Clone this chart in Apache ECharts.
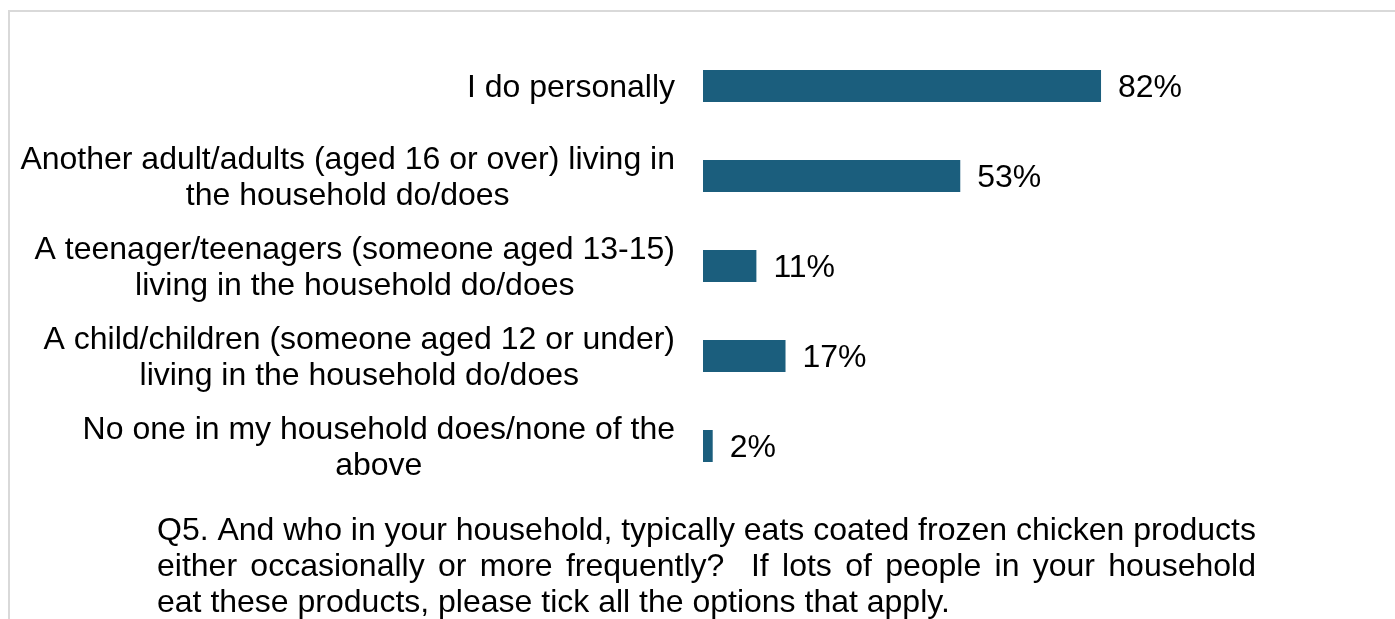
<!DOCTYPE html>
<html>
<head>
<meta charset="utf-8">
<script src="https://cdn.jsdelivr.net/npm/echarts@6/dist/echarts.min.js"></script>
<style>
  html, body { margin: 0; padding: 0; background: #ffffff; }
  #chart { width: 1395px; height: 619px; }
</style>
</head>
<body>
<div id="chart"></div>
<script>
// Who in the household eats coated frozen chicken products (% of respondents)
const categories = [
  'I do personally',
  'Another adult/adults (aged 16 or over) living in\nthe household do/does',
  'A teenager/teenagers (someone aged 13-15)\nliving in the household do/does',
  'A child/children (someone aged 12 or under)\nliving in the household do/does',
  'No one in my household does/none of the\nabove'
];
const shares = [82, 53, 11, 17, 2];

// Question wording shown beneath the bars (all but the last line justified)
const questionLines = [
  'Q5. And who in your household, typically eats coated frozen chicken products',
  'either occasionally or more frequently?  If lots of people in your household',
  'eat these products, please tick all the options that apply.'
];

const FONT_FAMILY = '"Liberation Sans", Arial, Helvetica, sans-serif';
const FONT_SIZE = 32;
const BAR_COLOR = '#1b5e7d';

// Lay out one paragraph line word by word so that it fills the given width
function justifiedLine(text, x, y, width, justify) {
  const ctx = document.createElement('canvas').getContext('2d');
  ctx.font = FONT_SIZE + 'px ' + FONT_FAMILY;
  const words = text.split(' ');
  const widths = words.map(w => ctx.measureText(w).width);
  const spaceW = ctx.measureText(' ').width;
  const total = widths.reduce((a, b) => a + b, 0);
  const gap = justify && words.length > 1
    ? (width - total) / (words.length - 1)
    : spaceW;
  const children = [];
  let cx = x;
  words.forEach((w, i) => {
    if (w.length) {
      children.push({
        type: 'text',
        x: cx,
        y: y,
        style: {
          text: w,
          fill: '#000000',
          font: FONT_SIZE + 'px ' + FONT_FAMILY,
          textAlign: 'left',
          textVerticalAlign: 'middle'
        }
      });
    }
    cx += widths[i] + gap;
  });
  return { type: 'group', children: children };
}

const paraLeft = 157;
const paraWidth = 1099;
const paraTop = 531;
const paraLineHeight = 36;

const questionGraphics = questionLines.map((line, i) =>
  justifiedLine(line, paraLeft, paraTop + i * paraLineHeight, paraWidth, i < questionLines.length - 1)
);

const chart = echarts.init(document.getElementById('chart'), null, { renderer: 'canvas' });

chart.setOption({
  animation: false,
  backgroundColor: '#ffffff',
  grid: {
    left: 703,
    top: 41,
    width: 485.4,
    height: 450,
    containLabel: false
  },
  xAxis: {
    type: 'value',
    min: 0,
    max: 100,
    show: false
  },
  yAxis: {
    type: 'category',
    data: categories,
    inverse: true,
    axisLine: { show: false },
    axisTick: { show: false },
    splitLine: { show: false },
    axisLabel: {
      margin: 28,
      align: 'right',
      padding: [4, 0, 0, 0],
      // each wrapped line is centred within the right-aligned label block
      formatter: value => value.split('\n').map(s => '{c|' + s + '}').join('\n'),
      rich: {
        c: {
          align: 'center',
          color: '#000000',
          fontFamily: FONT_FAMILY,
          fontSize: FONT_SIZE,
          lineHeight: 36
        }
      }
    }
  },
  series: [{
    type: 'bar',
    data: shares,
    barWidth: 32,
    itemStyle: { color: BAR_COLOR },
    label: {
      show: true,
      position: 'right',
      distance: 17,
      offset: [0, 2],
      formatter: '{c}%',
      color: '#000000',
      fontFamily: FONT_FAMILY,
      fontSize: FONT_SIZE
    }
  }],
  graphic: [
    {
      type: 'rect',
      shape: { x: 9, y: 11, width: 1600, height: 800 },
      style: { fill: 'none', stroke: '#d9d9d9', lineWidth: 2 },
      silent: true,
      z: -1
    }
  ].concat(questionGraphics)
});
</script>
</body>
</html>
